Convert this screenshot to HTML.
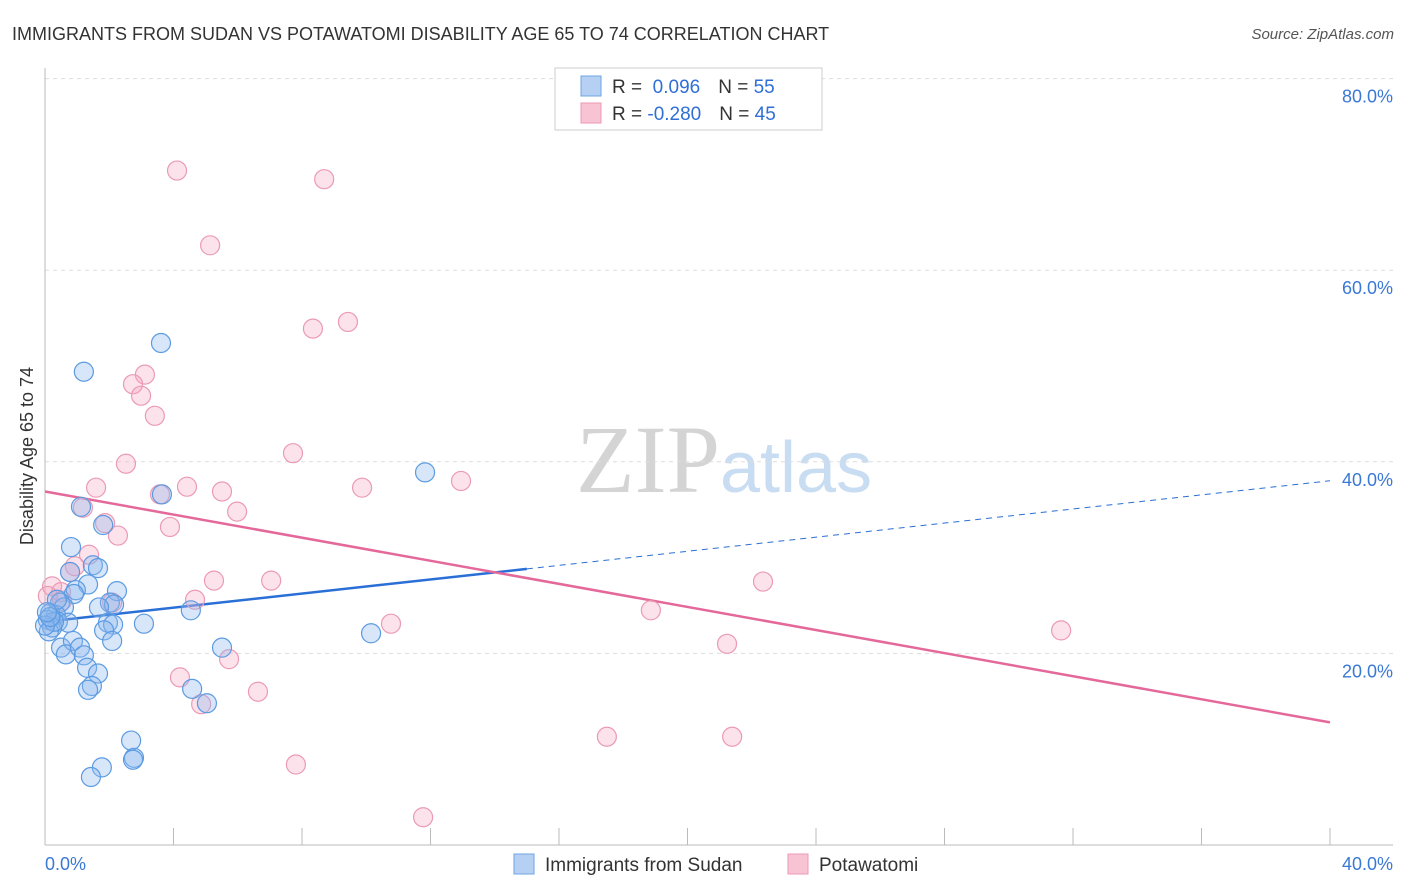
<!DOCTYPE html>
<html><head><meta charset="utf-8"><style>
body{margin:0;background:#fff;font-family:"Liberation Sans",sans-serif;}
svg{display:block}
</style></head><body>
<svg id="c" width="1406" height="892" xmlns="http://www.w3.org/2000/svg">
<text x="12" y="40" font-size="18" fill="#333">IMMIGRANTS FROM SUDAN VS POTAWATOMI DISABILITY AGE 65 TO 74 CORRELATION CHART</text>
<text x="1394" y="39" font-size="15" fill="#555" font-style="italic" text-anchor="end">Source: ZipAtlas.com</text>
<text x="720" y="492" font-size="96" fill="#d4d4d4" font-family="Liberation Serif,serif" text-anchor="end">ZIP</text>
<text x="720" y="492" font-size="72" fill="#c8dcf2" text-anchor="start">atlas</text>
<text transform="translate(33,456) rotate(-90)" font-size="18" fill="#333" text-anchor="middle">Disability Age 65 to 74</text>
<g id="grid"></g><g id="axes"></g><g id="lines"></g><g id="pts"></g>
<g>
<rect x="555" y="68" width="267" height="62" fill="#fff" stroke="#ccc"/>
<rect x="581" y="76" width="20" height="20" fill="#b5d0f2" stroke="#6fa3e3"/>
<rect x="581" y="103" width="20" height="20" fill="#f8c4d4" stroke="#ec9ab4"/>
<text x="612" y="93" font-size="19" fill="#333">R = <tspan fill="#2f6fd6">&#160;0.096</tspan><tspan dx="18">N = </tspan><tspan fill="#2f6fd6">55</tspan></text>
<text x="612" y="120" font-size="19" fill="#333">R = <tspan fill="#2f6fd6">-0.280</tspan><tspan dx="18">N = </tspan><tspan fill="#2f6fd6">45</tspan></text>
</g>
<g>
<rect x="514" y="854" width="20" height="20" fill="#b5d0f2" stroke="#6fa3e3"/>
<text x="545" y="871" font-size="19" fill="#333">Immigrants from Sudan</text>
<rect x="788" y="854" width="20" height="20" fill="#f8c4d4" stroke="#ec9ab4"/>
<text x="819" y="871" font-size="19" fill="#333">Potawatomi</text>
</g>
</svg>
<script>
const blueX=[1.21,3.61,11.83,1.12,1.81,3.64,0.81,1.49,1.65,0.78,1.34,2.24,0.96,0.90,0.47,2.02,2.15,1.68,0.59,0.16,0.34,0.09,0.40,0.72,0.22,0.12,1.96,2.12,1.84,3.08,2.09,4.54,10.15,0.50,0.87,0.65,1.09,1.21,1.31,1.65,1.46,1.34,5.51,4.58,5.04,2.68,2.77,2.74,1.77,1.43,0.28,0.0,0.16,0.37,0.06];
const blueY=[49.4,52.4,38.9,35.3,33.4,36.6,31.1,29.2,28.9,28.5,27.2,26.5,26.6,26.2,25.3,25.3,25.1,24.8,24.8,24.2,24.0,23.5,23.3,23.2,22.7,22.3,23.2,23.0,22.4,23.1,21.3,24.5,22.1,20.6,21.3,19.9,20.6,19.8,18.5,17.9,16.6,16.2,20.6,16.3,14.8,10.9,9.1,8.9,8.1,7.1,23.3,22.9,23.8,25.6,24.3];
const pinkX=[4.11,8.69,5.14,8.34,9.43,3.11,2.74,2.99,3.42,2.52,7.72,12.95,1.59,4.42,5.51,9.87,3.58,1.18,1.87,3.89,5.98,2.27,1.37,0.93,0.78,0.22,0.50,0.09,0.53,5.26,7.04,22.35,2.09,4.67,18.86,10.77,31.63,21.23,5.73,4.20,6.63,4.86,7.81,17.49,21.39,11.77];
const pinkY=[70.4,69.5,62.6,53.9,54.6,49.1,48.1,46.9,44.8,39.8,40.9,38.0,37.3,37.4,36.9,37.3,36.6,35.2,33.6,33.2,34.8,32.3,30.3,29.1,28.5,27.0,26.4,26.0,25.5,27.6,27.6,27.5,25.3,25.6,24.5,23.1,22.4,21.0,19.4,17.5,16.0,14.7,8.4,11.3,11.3,2.9];
const yTicks=[20,40,60,80];
const yTickLabels=["20.0%","40.0%","60.0%","80.0%"];
const xTicks=[0,4,8,12,16,20,24,28,32,36,40];
const xLabels=["0.0%","40.0%"];
const blueLine=[23.3,0.368,15.0]; // intercept, slope, solid end x
const pinkLine=[36.9,-0.6025];
const NS="http://www.w3.org/2000/svg";
const X=v=>45+v/40*1285, Y=v=>845-v*9.58;
function mk(p,t,a){const e=document.createElementNS(NS,t);for(const k in a)e.setAttribute(k,a[k]);document.getElementById(p).appendChild(e);return e;}
yTicks.forEach((t,i)=>{
 const l=mk('grid','line',{x1:45,x2:1393,y1:Y(t),y2:Y(t),stroke:'#ddd','stroke-dasharray':'4,4'});
 
 
 const tx=mk('grid','text',{x:1393,y:Y(t)+24,'text-anchor':'end','font-size':18,fill:'#3a78d6'});
 tx.textContent=yTickLabels[i];
 
 
});
const ax=mk('axes','line',{x1:45,x2:1393,y1:845,y2:845,stroke:'#bbb'});


const ay=mk('axes','line',{x1:45,x2:45,y1:68,y2:845,stroke:'#bbb'});


xTicks.slice(1).forEach(t=>{const l=mk('axes','line',{x1:X(t),x2:X(t),y1:828,y2:845,stroke:'#bbb'});
 
 });
const xl0=mk('axes','text',{x:45,y:870,'font-size':18,fill:'#3a78d6'});xl0.textContent=xLabels[0];


const xl1=mk('axes','text',{x:1393,y:870,'font-size':18,fill:'#3a78d6','text-anchor':'end'});xl1.textContent=xLabels[1];


const bl=v=>blueLine[0]+blueLine[1]*v, pl=v=>pinkLine[0]+pinkLine[1]*v;
const b1=mk('lines','line',{x1:X(0),y1:Y(bl(0)),x2:X(blueLine[2]),y2:Y(bl(blueLine[2])),stroke:'#2a6fd6','stroke-width':2.5});


const b2=mk('lines','line',{x1:X(blueLine[2]),y1:Y(bl(blueLine[2])),x2:X(40),y2:Y(bl(40)),stroke:'#2a6fd6','stroke-width':1,'stroke-dasharray':'6,5'});


const p1=mk('lines','line',{x1:X(0),y1:Y(pl(0)),x2:X(40),y2:Y(pl(40)),stroke:'#e4699a','stroke-width':2.5});


pinkX.forEach((x,i)=>{const c=mk('pts','circle',{cx:X(x),cy:Y(pinkY[i]),r:9.5,fill:'rgba(244,160,188,0.3)',stroke:'#eb9ab5','stroke-width':1.2});
 
 });
blueX.forEach((x,i)=>{const c=mk('pts','circle',{cx:X(x),cy:Y(blueY[i]),r:9.5,fill:'rgba(140,184,238,0.35)',stroke:'#5c9be2','stroke-width':1.2});
 
 });
</script>
</body></html>
